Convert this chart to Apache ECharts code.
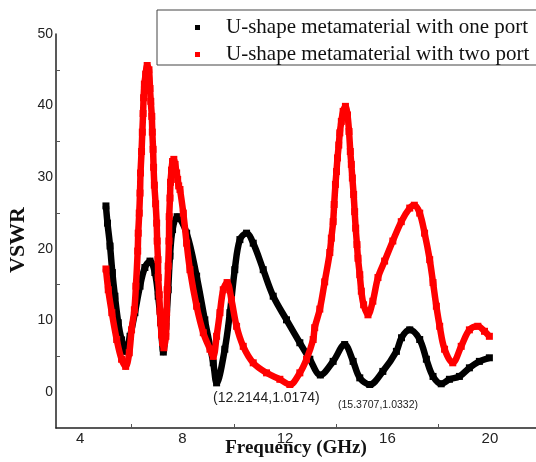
<!DOCTYPE html>
<html>
<head>
<meta charset="utf-8">
<script src="https://cdn.jsdelivr.net/npm/echarts@6/dist/echarts.min.js"></script>
<style>
html,body{margin:0;padding:0;background:#fff;}
#c{width:536px;height:462px;}
</style>
</head>
<body>
<div id="c"></div>
<script>
// ---- data ----
const seriesNames = ['U-shape metamaterial with one port', 'U-shape metamaterial with two port'];
const xTickLabels = [4, 8, 12, 16, 20];
const xMinorTicks = [6, 10, 14, 18];
const yTickLabels = [0, 10, 20, 30, 40, 50];
const yMinorTicks = [5, 15, 25, 35, 45];

const onePortFreq = [5.01,5.07,5.17,5.26,5.36,5.49,5.62,5.75,5.95,6.14,6.34,6.53,6.73,6.92,7.05,7.15,7.25,7.35,7.44,7.51,7.61,7.79,8.16,8.55,8.87,9.20,9.33,9.65,9.85,10.04,10.24,10.50,10.76,11.15,11.54,12.06,12.58,12.97,13.38,13.88,14.33,14.66,14.92,15.31,15.82,16.35,16.55,16.87,17.26,17.52,17.78,18.10,18.42,18.81,19.20,19.59,19.98];
const onePortVSWR = [26.0,23.6,20.4,16.7,13.4,9.7,7.3,5.7,7.8,11.1,14.8,17.4,18.3,16.7,13.4,9.7,5.6,9.2,14.3,19.0,22.7,24.5,22.2,16.2,10.1,4.1,1.3,6.0,11.1,17.1,21.3,22.2,20.8,17.1,13.4,10.1,6.9,4.6,2.4,4.3,6.65,4.3,2.0,1.07,2.9,5.7,7.6,8.7,7.35,4.6,2.2,1.17,1.8,2.2,3.4,4.3,4.8];

const twoPortFreq = [5.01,5.10,5.24,5.43,5.62,5.78,5.92,6.01,6.12,6.18,6.25,6.27,6.31,6.34,6.36,6.40,6.43,6.46,6.48,6.51,6.56,6.62,6.69,6.73,6.76,6.80,6.82,6.85,6.87,6.90,6.95,6.99,7.01,7.04,7.05,7.09,7.12,7.15,7.18,7.22,7.27,7.35,7.38,7.40,7.44,7.47,7.48,7.51,7.53,7.57,7.61,7.66,7.71,7.77,7.81,7.85,7.90,8.03,8.16,8.29,8.55,8.81,9.07,9.20,9.33,9.46,9.59,9.74,9.91,10.11,10.37,10.76,11.28,11.80,12.19,12.58,12.84,13.10,13.16,13.36,13.55,13.75,13.81,13.88,13.92,13.97,14.01,14.05,14.10,14.14,14.20,14.27,14.36,14.44,14.50,14.55,14.59,14.63,14.68,14.72,14.76,14.81,14.85,14.92,14.98,15.07,15.24,15.43,15.63,15.89,16.21,16.54,16.87,17.05,17.26,17.45,17.65,17.78,17.91,18.04,18.23,18.55,18.88,19.20,19.53,19.79,19.98];
const twoPortVSWR = [17.2,14.3,11.1,7.35,4.6,3.6,5.5,8.7,11.5,14.8,19.7,22.2,25.0,27.8,30.6,33.6,36.3,38.9,41.1,43.0,44.4,45.6,45.0,42.4,40.6,38.5,36.3,33.9,31.4,28.9,26.3,23.6,21.1,18.5,16.0,13.6,11.3,9.7,8.0,6.9,6.2,7.8,11.1,14.3,17.6,21.1,24.5,27.1,29.3,31.0,32.2,32.5,31.8,30.6,29.7,28.8,28.3,25.0,20.8,17.1,12.0,8.3,6.0,5.0,7.8,11.1,14.3,15.3,12.9,9.2,6.4,4.1,2.7,1.8,1.07,2.7,4.6,7.35,9.0,11.6,15.4,19.5,21.5,23.8,26.2,29.0,30.8,32.7,34.5,36.2,37.8,39.2,39.9,38.7,36.4,33.6,31.8,29.9,27.6,25.2,22.9,20.6,18.7,16.4,14.1,12.2,10.8,12.7,16.0,18.3,21.1,23.8,25.7,26.1,25.0,22.2,18.5,15.3,12.0,9.2,6.0,4.1,6.4,8.7,9.2,8.5,7.8];

const annotations = ['(12.2144,1.0174)', '(15.3707,1.0332)'];

function pairs(xs, ys) { return xs.map((x, i) => [x, ys[i]]); }

const chart = echarts.init(document.getElementById('c'), null, {renderer: 'canvas'});
const axisText = {color: '#222', fontFamily: 'Liberation Sans', fontSize: 14};

chart.setOption({
  animation: false,
  backgroundColor: '#fff',
  grid: {left: 56, right: 0, top: 34, bottom: 34, containLabel: false, outerBoundsMode: 'none'},
  xAxis: {
    type: 'value', min: 3.06, max: 21.8,
    name: 'Frequency (GHz)', nameLocation: 'middle', nameGap: 11, nameMoveOverlap: false,
    nameTextStyle: {fontFamily: 'Liberation Serif', fontWeight: 'bold', fontSize: 19, color: '#111', verticalAlign: 'top'},
    axisLine: {show: true, onZero: false, lineStyle: {color: '#222', width: 1.5}},
    axisTick: {show: true, inside: true, length: 4, customValues: xMinorTicks, lineStyle: {color: '#555'}},
    axisLabel: {customValues: xTickLabels, margin: 3, fontSize: 15, color: '#222', fontFamily: 'Liberation Sans'},
    splitLine: {show: false}
  },
  yAxis: {
    type: 'value', min: -5, max: 50,
    axisLine: {show: true, onZero: false, lineStyle: {color: '#222', width: 1.5}},
    axisTick: {show: true, inside: true, length: 4, customValues: yMinorTicks, lineStyle: {color: '#555'}},
    axisLabel: Object.assign({customValues: yTickLabels, margin: 3}, axisText),
    splitLine: {show: false}
  },
  legend: {
    orient: 'vertical', left: 157, top: 10,
    data: seriesNames,
    icon: 'rect', itemWidth: 5, itemHeight: 5, itemGap: 6,
    padding: [7, 10, 0, 38],
    borderColor: '#444', borderWidth: 1, backgroundColor: '#fff',
    textStyle: {fontFamily: 'Liberation Serif', fontSize: 21, color: '#111', lineHeight: 20, padding: [0, 0, 0, 21]}
  },
  series: [
    {
      name: seriesNames[0], type: 'line', data: pairs(onePortFreq, onePortVSWR),
      smooth: 0.35, symbol: 'rect', symbolSize: 7, showAllSymbol: true,
      itemStyle: {color: '#000'}, lineStyle: {color: '#000', width: 6.5}, z: 2
    },
    {
      name: seriesNames[1], type: 'line', data: pairs(twoPortFreq, twoPortVSWR),
      smooth: 0.35, symbol: 'rect', symbolSize: 7, showAllSymbol: true,
      itemStyle: {color: '#ff0000'}, lineStyle: {color: '#ff0000', width: 6.5}, z: 3
    }
  ],
  graphic: [
    {type: 'text', x: 18.5, y: 240, rotation: Math.PI / 2,
     style: {text: 'VSWR', align: 'center', verticalAlign: 'middle', fontFamily: 'Liberation Serif', fontWeight: 'bold', fontSize: 22, fill: '#111'}},
    {type: 'text', left: 213, top: 391,
     style: {text: annotations[0], fontFamily: 'Liberation Sans', fontSize: 14, fill: '#222'}},
    {type: 'text', left: 338, top: 400,
     style: {text: annotations[1], fontFamily: 'Liberation Sans', fontSize: 10.5, fill: '#222'}}
  ]
});
</script>
</body>
</html>
